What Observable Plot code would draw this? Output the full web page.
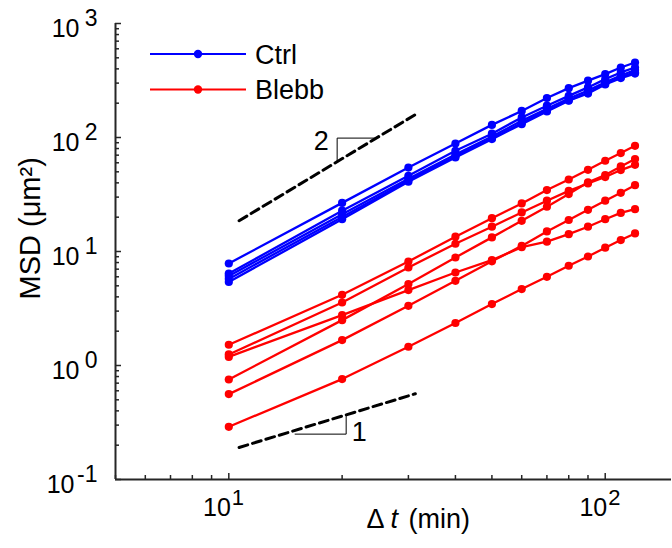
<!DOCTYPE html>
<html><head><meta charset="utf-8">
<script src="https://cdn.jsdelivr.net/npm/d3@7"></script>
<script src="https://cdn.jsdelivr.net/npm/@observablehq/plot@0.6"></script>
<style>
html,body{margin:0;padding:0;background:#fff;}
#chart svg{display:block;}
</style></head><body><div id="chart"></div>
<script>
// ---- data ----
const lagTimes = [10, 20, 30, 40, 50, 60, 70, 80, 90, 100, 110, 120];
const ctrlSeries = [
  [7.85, 26.7, 54.5, 88.6, 129, 171, 222, 271, 315, 360, 411, 455],
  [6.4, 22.8, 46.2, 76.4, 108, 150, 190, 232, 275, 325, 372, 411],
  [6.1, 21.2, 43.5, 71, 102, 140, 179, 220, 258, 305, 350, 390],
  [5.75, 20.1, 42, 68.5, 98.5, 134, 172, 212, 247, 296, 338, 372],
  [5.4, 19.2, 41, 66.8, 96.8, 131, 169, 210, 243, 292, 332, 364]
];
const blebbSeries = [
  [1.52, 4.17, 8.17, 13.5, 19.6, 26.4, 34.6, 42.8, 52.1, 62.5, 73, 84.6],
  [1.25, 3.57, 7.24, 11.7, 16.5, 22.0, 27.9, 34.0, 39.5, 45.0, 51.8, 57.6],
  [0.754, 2.50, 5.18, 8.86, 13.3, 18.6, 24.7, 31.9, 40.5, 46.8, 55.7, 64.7],
  [0.561, 1.67, 3.34, 5.53, 8.2, 11.2, 15.0, 18.9, 23.2, 27.9, 32.7, 38.2],
  [1.19, 2.77, 4.59, 6.54, 8.4, 10.9, 12.2, 14.2, 16.5, 19.2, 21.8, 23.5],
  [0.29, 0.76, 1.46, 2.36, 3.46, 4.68, 6.0, 7.5, 9.04, 10.8, 12.6, 14.4]
];
const groups = ["Ctrl", "Blebb"];
const groupColors = ["#0000ff", "#ff0000"];
const xTickValues = [10, 100];
const yTickValues = [0.1, 1, 10, 100, 1000];
const xTickExponents = ["1", "2"];
const yTickExponents = ["-1", "0", "1", "2", "3"];
const xLabelParts = ["\u0394", "t", "(min)"];
const yLabel = "MSD (\u03bcm\u00b2)";
// slope guides (data coordinates)
const slope2Guide = [{x: 10.65, y: 18.6}, {x: 32, y: 166}];
const slope2Triangle = [{x: 19.4, y: 61.7}, {x: 19.4, y: 98.8}, {x: 24.5, y: 98.8}];
const slope1Guide = [{x: 10.65, y: 0.191}, {x: 31.3, y: 0.565}];
const slope1Triangle = [{x: 15, y: 0.25}, {x: 20.5, y: 0.25}, {x: 20.5, y: 0.368}];
const slopeLabels = [{x: 17.6, y: 91.7, text: "2"}, {x: 22.2, y: 0.257, text: "1"}];

// ---- build table ----
const rows = [];
ctrlSeries.forEach((s, i) => s.forEach((v, j) => rows.push({group: "Ctrl", id: "c" + i, t: lagTimes[j], msd: v})));
blebbSeries.forEach((s, i) => s.forEach((v, j) => rows.push({group: "Blebb", id: "b" + i, t: lagTimes[j], msd: v})));

const xMinor = [];
for (const e of [0, 1]) for (let k = 2; k <= 9; k++) { const v = k * 10 ** e; if (v >= 5 && v <= 150) xMinor.push(v); }
const yMinor = [];
for (const e of [-1, 0, 1, 2]) for (let k = 2; k <= 9; k++) yMinor.push(+(k * 10 ** e).toPrecision(3));

const FONT = "'Liberation Sans', Arial, Helvetica, sans-serif";
const AX = "#262626";

function legendMark() {
  return () => {
    const g = d3.create("svg:g").attr("font-family", FONT).attr("font-size", 27)
      .attr("fill", "#000").attr("text-anchor", "start");
    groups.forEach((name, i) => {
      const y = 54 + i * 35.5;
      g.append("line").attr("x1", 150).attr("x2", 246).attr("y1", y).attr("y2", y)
        .attr("stroke", groupColors[i]).attr("stroke-width", 2.2);
      g.append("circle").attr("cx", 198).attr("cy", y).attr("r", 4.2).attr("fill", groupColors[i]);
      g.append("text").attr("x", 255).attr("y", y).attr("dy", "0.36em").attr("text-anchor", "start").text(name);
    });
    return g.node();
  };
}

const chart = Plot.plot({
  width: 672,
  height: 548,
  marginLeft: 115,
  marginRight: 1,
  marginTop: 23,
  marginBottom: 69,
  style: {fontFamily: FONT, background: "#fff", overflow: "visible"},
  x: {type: "log", domain: [5, 150], axis: null, label: null},
  y: {type: "log", domain: [0.1, 1000], axis: null, label: null},
  color: {domain: groups, range: groupColors},
  marks: [
    // axis lines
    Plot.ruleX([5], {stroke: AX, strokeWidth: 2}),
    Plot.ruleY([0.1], {stroke: AX, strokeWidth: 2}),
    // inward ticks
    Plot.axisY(yTickValues, {tickSize: 6, dx: 6, tickFormat: () => "", stroke: AX, strokeWidth: 1.5, label: null}),
    Plot.axisY(yMinor, {tickSize: 4, dx: 4, tickFormat: () => "", stroke: AX, strokeWidth: 1.5, label: null}),
    Plot.axisX(xTickValues, {tickSize: 6, dy: -6, tickFormat: () => "", stroke: AX, strokeWidth: 1.5, label: null}),
    Plot.axisX(xMinor, {tickSize: 4, dy: -4, tickFormat: () => "", stroke: AX, strokeWidth: 1.5, label: null}),
    // y tick labels: "10" + exponent
    ...yTickValues.map((v, i) => Plot.text([v], {y: d => d, frameAnchor: "left", text: () => "10", textAnchor: "end",
      dx: yTickExponents[i].startsWith("-") ? -41 : -36, dy: 5, fontSize: 25, fill: "#000"})),
    Plot.text(yTickValues, {y: d => d, frameAnchor: "left", text: (d, i) => yTickExponents[i], textAnchor: "end",
      dx: -18, dy: -5, fontSize: 23, fill: "#000"}),
    // x tick labels
    Plot.text(xTickValues, {x: d => d, frameAnchor: "bottom", text: () => "10", textAnchor: "end", dx: 2, dy: 36, fontSize: 25, fill: "#000"}),
    Plot.text(xTickValues, {x: d => d, frameAnchor: "bottom", text: (d, i) => xTickExponents[i], textAnchor: "start", dx: 3, dy: 25, fontSize: 22, fill: "#000"}),
    // axis labels
    Plot.text([xLabelParts[0]], {frameAnchor: "bottom", text: d => d, textAnchor: "start", dx: -27, dy: 48, fontSize: 27, fill: "#000"}),
    Plot.text([xLabelParts[1]], {frameAnchor: "bottom", text: d => d, textAnchor: "start", dx: -3, dy: 48, fontSize: 27, fontStyle: "italic", fill: "#000"}),
    Plot.text([xLabelParts[2]], {frameAnchor: "bottom", text: d => d, textAnchor: "start", dx: 15, dy: 48, fontSize: 27, fill: "#000"}),
    Plot.text([yLabel], {frameAnchor: "left", text: d => d, rotate: -90, dx: -85, dy: 48, fontSize: 29, fill: "#000"}),
    // slope guides
    Plot.line(slope2Guide, {x: "x", y: "y", stroke: "#000", strokeWidth: 3, strokeDasharray: "9,5"}),
    Plot.line(slope1Guide, {x: "x", y: "y", stroke: "#000", strokeWidth: 3, strokeDasharray: "9,5"}),
    Plot.line(slope2Triangle, {x: "x", y: "y", stroke: "#000", strokeWidth: 1}),
    Plot.line(slope1Triangle, {x: "x", y: "y", stroke: "#000", strokeWidth: 1}),
    Plot.text(slopeLabels, {x: "x", y: "y", text: "text", fontSize: 27, fill: "#000"}),
    // data
    Plot.line(rows, {x: "t", y: "msd", z: "id", stroke: "group", strokeWidth: 2.3}),
    Plot.dot(rows, {x: "t", y: "msd", fill: "group", r: 4.1}),
    legendMark()
  ]
});
document.getElementById("chart").append(chart);
</script>
</body></html>
